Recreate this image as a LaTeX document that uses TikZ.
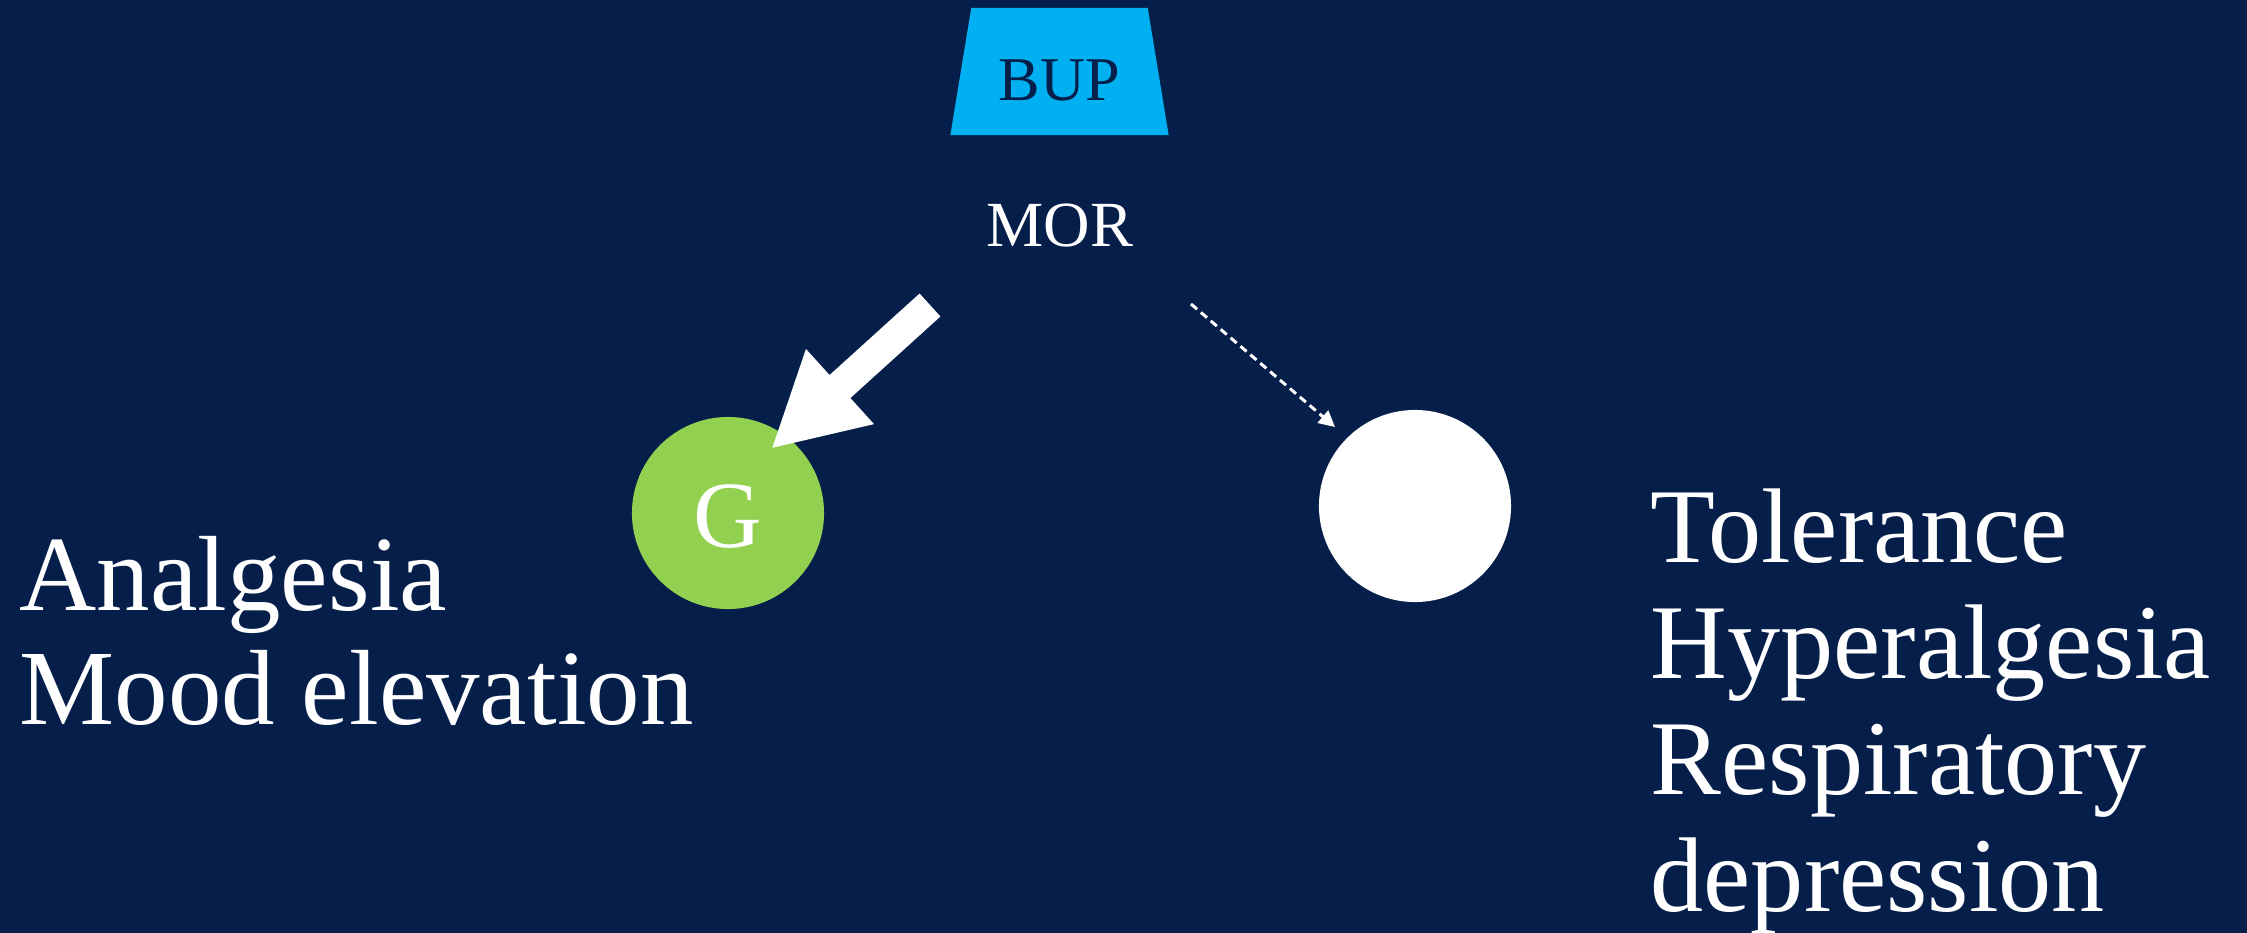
\documentclass[tikz,border=0pt]{standalone}
\usepackage{fontspec}
\setmainfont{Liberation Serif}
\usetikzlibrary{shapes.geometric,arrows.meta}
\definecolor{bg}{RGB}{6,31,74}
\definecolor{bupcyan}{RGB}{0,176,240}
\definecolor{ggreen}{RGB}{146,208,80}
\tikzset{
  bigtext/.style={inner sep=0pt, text=white, align=left, anchor=base west,
    font=\fontsize{30.2}{33}\selectfont},
  receptor/.style={circle, minimum size=1.92cm, inner sep=0pt},
}
\begin{document}
\begin{tikzpicture}[x=0.01cm,y=-0.01cm]
\fill[bg] (0,0) rectangle (2247,933);
\useasboundingbox (0,0) rectangle (2247,933);
\node[trapezium, trapezium left angle=75.9, trapezium right angle=75.9,
  trapezium stretches=true, minimum width=2.19cm, minimum height=1.27cm,
  inner sep=0pt, fill=bupcyan, text=bg, font=\fontsize{17.7}{20}\selectfont,
  text height=0.57cm, text depth=0pt] (bup) at (1059.5,71.5) {BUP};
\node[inner sep=0pt, anchor=base, text=white, font=\fontsize{18.3}{20}\selectfont] (mor) at (1060,246) {MOR};
\node[receptor, fill=ggreen, text=white, font=\fontsize{27}{30}\selectfont,
  text height=0.68cm, text depth=0pt] (g) at (728,513) {G};
\node[receptor, fill=white] (w) at (1415,506) {};
\node[bigtext, font=\fontsize{30.4}{32.4}\selectfont] (left) at (19,724) {Analgesia\\Mood elevation};
\node[bigtext] (right) at (1650,911) {Tolerance\\Hyperalgesia\\Respiratory\\depression};
\coordinate (t1s) at (930,305);
\coordinate (t1e) at (771,449);
\coordinate (d1s) at (1191,304);
\coordinate (d1e) at (1335,427);
\draw[white, line width=0.31cm, -{Triangle[length=0.93cm, width=0.94cm]}] (t1s) -- (t1e);
\draw[white, line width=0.85pt, dash pattern=on 0.8mm off 0.5mm, -{Triangle[length=0.16cm, width=0.16cm]}] (d1s) -- (d1e);
\end{tikzpicture}
\end{document}
